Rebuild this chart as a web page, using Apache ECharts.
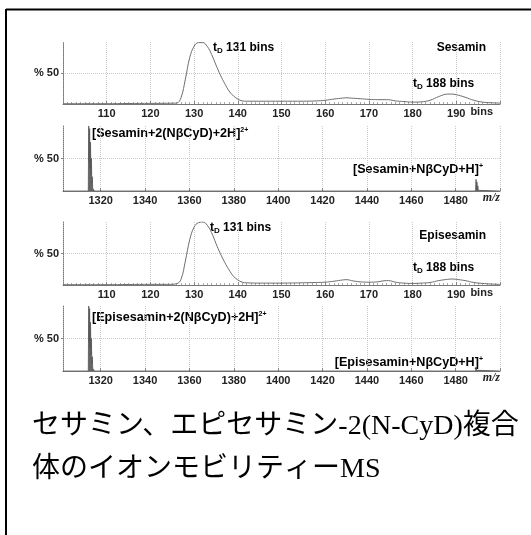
<!DOCTYPE html>
<html><head><meta charset="utf-8">
<script src="https://cdn.jsdelivr.net/npm/echarts@6/dist/echarts.min.js"></script>
<style>html,body{margin:0;padding:0;background:#fff}#c{width:531px;height:535px}</style>
</head><body><div id="c"></div>
<script>
// ---- data ----
const binsTime = [100,105,110,115,120,124,126,127,128,129,130,131,132,133,134,135,136,137,138,139,140,141,142,145,150,155,158,160,162,164,165,166,168,170,172,174,175,176,178,180,182,184,186,188,189,190,192,194,196,198,200];
const sesaminBins = [0.5,0.5,0.5,0.8,1,1.2,1.5,10,40,75,93,99,99,93,80,63,47,33,21,13,8,5,4.5,4.5,4.5,4.5,5,6,8,9.5,10,9.5,8.5,7.5,7,7,6.5,5,4,3,3.5,6,12,16,16,15,11,6,3,2,1.5];
const episesaminBins = [0.5,0.5,0.5,0.8,1,1,2,9,38,72,92,99,100,95,83,66,50,36,24,14,8,4.5,3.5,3,3,3.5,4,4.5,6,8,8.5,7,5,4.5,5,7,6.5,4.5,3,2.5,3,4,7,9,9.5,9,7,4,2.5,1.5,1];
const binTicks = [110,120,130,140,150,160,170,180,190];

const sesaminMz = [1303,1314.4,1314.6,1314.8,1315.0,1315.2,1315.4,1315.6,1315.8,1316.0,1316.2,1316.4,1316.6,1316.9,1317.2,1489.0,1489.2,1489.4,1489.6,1489.8,1490.0,1490.2,1490.4,1490.6,1490.8,1491.0,1491.3,1500];
const sesaminMs = [0,0,100,45,96,35,75,25,50,12,22,4,6,1,0,0,18,3,14,2,8,1,3,0.5,1.5,0,0,0];
const episesaminMz = [1303,1314.4,1314.6,1314.8,1315.0,1315.2,1315.4,1315.6,1315.8,1316.0,1316.2,1316.4,1316.6,1316.9,1317.2,1489.0,1489.2,1489.4,1489.6,1489.8,1490.0,1490.2,1490.4,1491.0,1500];
const episesaminMs = [0,0,100,45,96,35,75,25,50,12,22,4,6,1,0,0,6,1,4,0.5,2,0,1,0,0];
const mzTicks = [1320,1340,1360,1380,1400,1420,1440,1460,1480];
const mzGrid = [1320,1340,1360,1380,1400,1420,1440,1460,1480,1500];

const caption1 = 'セサミン、エピセサミン-2(N-CyD)複合';
const caption2 = '体のイオンモビリティーMS';

// ---- chart ----
const LBL = '"Liberation Sans Narrow","Liberation Sans",sans-serif';
const BOLD = '"Liberation Sans",sans-serif';
const chart = echarts.init(document.getElementById('c'), null, {renderer: 'canvas'});

const grids = [
  {left: 63, right: 31, top: 42, height: 62},
  {left: 63, right: 31, top: 126, height: 65},
  {left: 63, right: 31, top: 222, height: 63},
  {left: 63, right: 31, top: 306, height: 65}
];

function xAxisBins(i) {
  return {
    gridIndex: i, type: 'value', min: 100, max: 200, interval: 10,
    name: 'bins', nameLocation: 'end', nameGap: -7,
    nameTextStyle: {fontFamily: BOLD, fontWeight: 'bold', fontSize: 11, color: '#222', align: 'right', verticalAlign: 'top', padding: [2,0,0,0]},
    axisLine: {lineStyle: {color: '#777', width: 1}},
    axisTick: {show: true, length: 3, inside: true, lineStyle: {color: '#888'}},
    minorTick: {show: true, splitNumber: 10, length: 2, lineStyle: {color: '#aaa'}},
    axisLabel: {showMinLabel: false, showMaxLabel: false, margin: 4, fontFamily: LBL, fontWeight: 'bold', fontSize: 11, color: '#222'},
    splitLine: {show: true, lineStyle: {type: 'dotted', color: '#c8c8c8'}}
  };
}
function xAxisMz(i) {
  return {
    gridIndex: i, type: 'value', min: 1303, max: 1500,
    name: 'm/z', nameLocation: 'end', nameGap: 0,
    nameTextStyle: {fontFamily: '"Liberation Serif",serif', fontStyle: 'italic', fontWeight: 'bold', fontSize: 12, color: '#222', align: 'right', verticalAlign: 'top', padding: [1,0,0,0]},
    axisLine: {lineStyle: {color: '#777', width: 1}},
    axisTick: {show: true, length: 3, inside: true, customValues: mzGrid, lineStyle: {color: '#888'}},
    axisLabel: {customValues: mzTicks, formatter: v => String(v), margin: 4, fontFamily: LBL, fontWeight: 'bold', fontSize: 11, color: '#222'},
    splitLine: {show: true, lineStyle: {type: 'dotted', color: '#c8c8c8'}}
  };
}
function yAxisPct(i) {
  return {
    gridIndex: i, type: 'value', min: 0, max: 100,
    axisLine: {show: true, lineStyle: {color: '#777', type: 'dotted', width: 1}},
    axisTick: {show: true, length: 2, customValues: [50], lineStyle: {color: '#888'}},
    axisLabel: {customValues: [50], formatter: v => '% ' + v, margin: 4, fontFamily: LBL, fontWeight: 'bold', fontSize: 11, color: '#222'},
    splitLine: {show: true, lineStyle: {type: 'dotted', color: '#c8c8c8'}}
  };
}

const pair = (xs, ys) => xs.map((x, k) => [x, ys[k]]);

function makeRich(size) {
  return {
    b: {fontFamily: BOLD, fontWeight: 'bold', fontSize: size, color: '#111', lineHeight: 14},
    sub: {fontFamily: BOLD, fontWeight: 'bold', fontSize: 8, color: '#111', verticalAlign: 'bottom'},
    sup: {fontFamily: BOLD, fontWeight: 'bold', fontSize: 7, color: '#111', verticalAlign: 'top'}
  };
}
function label(text, x, y, align, size) {
  return {type: 'text', x: x, y: y, style: {text: text, rich: makeRich(size || 12), align: align || 'left', verticalAlign: 'middle'}};
}

const CAP = '28px "Liberation Serif","Noto Sans CJK JP",sans-serif';
const option = {
  animation: false,
  backgroundColor: '#fff',
  grid: grids,
  xAxis: [xAxisBins(0), xAxisMz(1), xAxisBins(2), xAxisMz(3)],
  yAxis: [yAxisPct(0), yAxisPct(1), yAxisPct(2), yAxisPct(3)],
  series: [
    {type: 'line', xAxisIndex: 0, yAxisIndex: 0, data: pair(binsTime, sesaminBins), smooth: 0.4, symbol: 'none', lineStyle: {color: '#6e6e6e', width: 1}},
    {type: 'line', xAxisIndex: 1, yAxisIndex: 1, data: pair(sesaminMz, sesaminMs), symbol: 'none', lineStyle: {color: '#555', width: 0.8}, areaStyle: {color: '#666', opacity: 1}},
    {type: 'line', xAxisIndex: 2, yAxisIndex: 2, data: pair(binsTime, episesaminBins), smooth: 0.4, symbol: 'none', lineStyle: {color: '#6e6e6e', width: 1}},
    {type: 'line', xAxisIndex: 3, yAxisIndex: 3, data: pair(episesaminMz, episesaminMs), symbol: 'none', lineStyle: {color: '#555', width: 0.8}, areaStyle: {color: '#666', opacity: 1}}
  ],
  graphic: [
    {type: 'line', shape: {x1: 6, y1: 9.5, x2: 531, y2: 9.5}, style: {stroke: '#000', lineWidth: 2}},
    {type: 'line', shape: {x1: 6, y1: 9, x2: 6, y2: 535}, style: {stroke: '#000', lineWidth: 2}},
    label('{b|t}{sub|D}{b| 131 bins}', 213, 48),
    label('{b|Sesamin}', 486, 48, 'right'),
    label('{b|t}{sub|D}{b| 188 bins}', 413, 84),
    label('{b|[Sesamin+2(NβCyD)+2H]}{sup|2+}', 92, 134, 'left', 12.6),
    label('{b|[Sesamin+NβCyD+H]}{sup|+}', 483, 170, 'right', 12.6),
    label('{b|t}{sub|D}{b| 131 bins}', 210, 228),
    label('{b|Episesamin}', 486, 236, 'right'),
    label('{b|t}{sub|D}{b| 188 bins}', 413, 268),
    label('{b|[Episesamin+2(NβCyD)+2H]}{sup|2+}', 92, 318, 'left', 12.6),
    label('{b|[Episesamin+NβCyD+H]}{sup|+}', 483, 363, 'right', 12.6),
    {type: 'text', x: 32, y: 427, style: {text: caption1, font: CAP, fill: '#000', verticalAlign: 'middle'}},
    {type: 'text', x: 32, y: 470, style: {text: caption2, font: CAP, fill: '#000', verticalAlign: 'middle'}}
  ]
};
chart.setOption(option);
</script>
</body></html>
